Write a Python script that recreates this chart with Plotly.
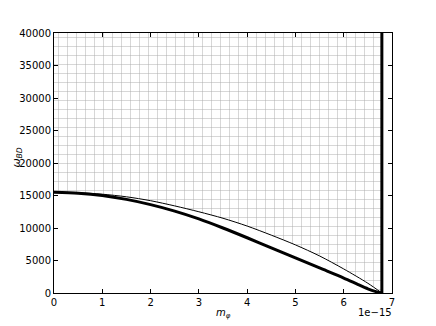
import plotly.graph_objects as go

# data (x in units of 1e-15)
x_thick = [0, 0.5, 1, 1.5, 2, 2.5, 3, 3.5, 4, 4.5, 5, 5.5, 6, 6.3, 6.5, 6.65, 6.79]
y_thick = [15500, 15350, 15000, 14400, 13600, 12600, 11400, 10000, 8500, 6950, 5400, 3850, 2300, 1300, 650, 250, 0]

x_thin = [0, 0.5, 1, 1.5, 2, 2.5, 3, 3.5, 4, 4.5, 5, 5.5, 6, 6.5, 6.79]
y_thin = [15500, 15420, 15200, 14800, 14200, 13400, 12500, 11500, 10300, 8900, 7400, 5700, 3700, 1500, 0]

x_limit = 6.79
y_top = 40000
x_range = [0, 7]
y_range = [0, 40000]
x_ticks = [0, 1, 2, 3, 4, 5, 6, 7]
y_ticks = [0, 5000, 10000, 15000, 20000, 25000, 30000, 35000, 40000]

fig = go.Figure()

# hatched region above thin curve
poly_x = x_thin + [x_limit, 0, 0]
poly_y = y_thin + [y_top, y_top, y_thin[0]]
fig.add_trace(go.Scatter(
    x=poly_x, y=poly_y, mode='lines', fill='toself',
    line=dict(width=0, color='rgba(0,0,0,0)'),
    fillcolor='rgba(0,0,0,0)',
    fillpattern=dict(shape='+', size=9, solidity=0.1, fgcolor='#505050', bgcolor='rgba(0,0,0,0)'),
    hoverinfo='skip', showlegend=False))

fig.add_trace(go.Scatter(x=x_thin, y=y_thin, mode='lines',
                         line=dict(color='black', width=1, shape='spline', smoothing=0.8), showlegend=False))
fig.add_trace(go.Scatter(x=x_thick, y=y_thick, mode='lines',
                         line=dict(color='black', width=3, shape='spline', smoothing=0.8), showlegend=False))
fig.add_trace(go.Scatter(x=[x_limit, x_limit], y=[0, y_top], mode='lines',
                         line=dict(color='black', width=3), showlegend=False))

axis_common = dict(showgrid=False, zeroline=False, showline=True, linecolor='black', linewidth=1,
                   mirror='allticks', ticks='inside', ticklen=4, tickcolor='black', automargin=False,
                   tickfont=dict(family='DejaVu Sans', size=10, color='black'))

fig.update_xaxes(range=x_range, tickvals=x_ticks, ticktext=[str(t) for t in x_ticks], **axis_common)
fig.update_yaxes(range=y_range, tickvals=y_ticks, ticktext=[str(t) for t in y_ticks], **axis_common)

fig.update_layout(
    width=428, height=318,
    margin=dict(l=46, r=44, t=25, b=33),
    plot_bgcolor='white', paper_bgcolor='white',
    font=dict(family='DejaVu Sans', color='black'),
    annotations=[
        dict(text='1e\u221215', x=1.005, y=-0.075, xref='paper', yref='paper', xanchor='right',
             yanchor='middle', showarrow=False, font=dict(size=10)),
        dict(text='<i>m</i><sub><i>\u03c6</i></sub>', x=0.5, y=-0.08, xref='paper', yref='paper',
             xanchor='center', yanchor='middle', showarrow=False, font=dict(size=10)),
        dict(text='<i>\u03c9</i><sub><i>BD</i></sub>', x=-0.11, y=0.52, xref='paper', yref='paper',
             xanchor='center', yanchor='middle', textangle=-90, showarrow=False, font=dict(size=11)),
    ],
)

fig.write_html("out.html")
